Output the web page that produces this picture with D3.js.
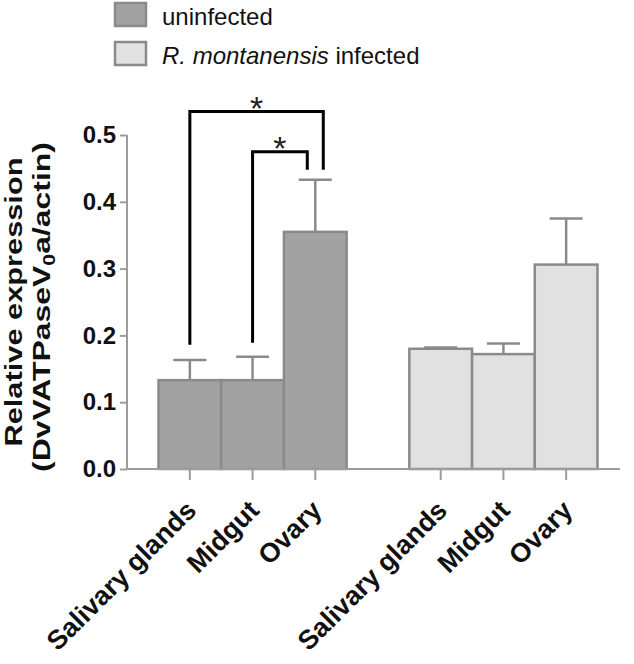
<!DOCTYPE html>
<html>
<head>
<meta charset="utf-8">
<script src="https://cdn.jsdelivr.net/npm/d3@7"></script>
<style>
  html, body { margin: 0; padding: 0; background: #fff; }
  svg { display: block; font-family: Arial, "Liberation Sans", sans-serif; }
</style>
</head>
<body>
<svg id="chart" width="634" height="664"></svg>
<script>
// ---- data ----
const tissues = ["Salivary glands", "Midgut", "Ovary"];
const groups = ["uninfected", "R. montanensis infected"];
const uninfectedMeans = [0.133, 0.133, 0.355];
const uninfectedErrors = [0.030, 0.035, 0.078];
const infectedMeans = [0.180, 0.172, 0.306];
const infectedErrors = [0.002, 0.016, 0.069];
const yTicks = [0.0, 0.1, 0.2, 0.3, 0.4, 0.5];
// significance brackets: [left tissue index, right tissue index, left foot, top, right foot]
const brackets = [
  [0, 2, 0.186, 0.535, 0.448],
  [1, 2, 0.189, 0.475, 0.448]
];

const svg = d3.select("#chart");
const fills = ["#a2a2a2", "#e1e1e1"];
const edge = "#8a8a8a";
const axisCol = "#9c9c9c";

// slots: 3 uninfected, gap, 3 infected
const keys = [...tissues.map(t => "u|" + t), "gap", ...tissues.map(t => "i|" + t)];
const x = d3.scaleBand().domain(keys).range([158.5, 597.5]).padding(0);
const y = d3.scaleLinear().domain([0, 0.5]).range([469, 135]);

const bars = [];
tissues.forEach((t, i) => bars.push({key: "u|" + t, label: t, g: 0, v: uninfectedMeans[i], e: uninfectedErrors[i]}));
tissues.forEach((t, i) => bars.push({key: "i|" + t, label: t, g: 1, v: infectedMeans[i], e: infectedErrors[i]}));

// error bars (drawn first so bar outline overlays)
const eb = svg.append("g").attr("stroke", edge).attr("stroke-width", 2.5);
bars.forEach(d => {
  const cx = x(d.key) + x.bandwidth() / 2;
  eb.append("line").attr("x1", cx).attr("x2", cx).attr("y1", y(d.v)).attr("y2", y(d.v + d.e));
  eb.append("line").attr("x1", cx - 16.5).attr("x2", cx + 16.5).attr("y1", y(d.v + d.e)).attr("y2", y(d.v + d.e));
});

// bars
svg.append("g").selectAll("rect").data(bars).join("rect")
  .attr("x", d => x(d.key))
  .attr("width", x.bandwidth())
  .attr("y", d => y(d.v))
  .attr("height", d => y(0) - y(d.v))
  .attr("fill", d => fills[d.g])
  .attr("stroke", edge)
  .attr("stroke-width", 2.5);

// y axis
const yAxis = svg.append("g").attr("transform", "translate(127,0)")
  .call(d3.axisLeft(y).tickValues(yTicks).tickFormat(d3.format(".1f")).tickSize(7).tickPadding(4));
yAxis.select(".domain").attr("stroke", axisCol).attr("stroke-width", 2).attr("d", `M0,${y(0.5)}V${y(0)}`);
yAxis.selectAll(".tick line").attr("stroke", axisCol).attr("stroke-width", 2);
yAxis.selectAll(".tick text").attr("fill", "#111").attr("font-size", 24).attr("font-weight", "bold")
  .attr("font-family", "Arial, 'Liberation Sans', sans-serif");

// x axis
const xAxisG = svg.append("g");
xAxisG.append("line").attr("x1", 127).attr("x2", 620).attr("y1", y(0)).attr("y2", y(0))
  .attr("stroke", axisCol).attr("stroke-width", 2);
bars.forEach(d => {
  const cx = x(d.key) + x.bandwidth() / 2;
  xAxisG.append("line").attr("x1", cx).attr("x2", cx).attr("y1", y(0)).attr("y2", y(0) + 11)
    .attr("stroke", axisCol).attr("stroke-width", 2);
  xAxisG.append("text")
    .attr("transform", `translate(${cx + 8},${y(0) + 43}) rotate(-45)`)
    .attr("text-anchor", "end")
    .attr("font-size", 27).attr("font-weight", "bold").attr("fill", "#111")
    .text(d.label);
});

// y title
const yt1 = svg.append("g").attr("transform", "translate(0,302) rotate(-90)");
yt1.append("text").attr("x", -144.5).attr("y", 22)
  .attr("textLength", 289).attr("lengthAdjust", "spacingAndGlyphs")
  .attr("font-size", 24).attr("font-weight", "bold").attr("fill", "#111")
  .text("Relative expression");
const yt2 = svg.append("g").attr("transform", "translate(0,307) rotate(-90)");
const t2 = yt2.append("text").attr("x", -165).attr("y", 50)
  .attr("textLength", 330).attr("lengthAdjust", "spacingAndGlyphs")
  .attr("font-size", 24).attr("font-weight", "bold").attr("fill", "#111");
t2.append("tspan").text("(DvVATPaseV");
t2.append("tspan").attr("font-size", 16).attr("dy", 5).text("0");
t2.append("tspan").attr("dy", -5).text("a/actin)");

// significance brackets
const br = svg.append("g").attr("stroke", "#000").attr("stroke-width", 3).attr("fill", "none");
brackets.forEach(([a, b, yl, ytop, yr], k) => {
  const xl = x("u|" + tissues[a]) + x.bandwidth() / 2;
  const xr = x("u|" + tissues[b]) + x.bandwidth() / 2 + (k === 0 ? 8 : -8);
  br.append("path").attr("d", `M${xl},${y(yl)}V${y(ytop)}H${xr}V${y(yr)}`);
  svg.append("text").attr("x", (xl + xr) / 2).attr("y", y(ytop) + 8)
    .attr("text-anchor", "middle").attr("font-size", 34).attr("fill", "#222").text("*");
});

// legend
const lg = svg.append("g");
groups.forEach((g, i) => {
  const yy = [3, 42][i];
  lg.append("rect").attr("x", 115).attr("y", yy).attr("width", 31).attr("height", 23)
    .attr("fill", fills[i]).attr("stroke", edge).attr("stroke-width", 2.5);
  const t = lg.append("text").attr("x", 162).attr("y", yy + 22).attr("font-size", 24).attr("fill", "#111");
  if (i === 0) t.text(g);
  else {
    t.append("tspan").attr("font-style", "italic").text("R. montanensis");
    t.append("tspan").text(" infected");
  }
});
</script>
</body>
</html>
